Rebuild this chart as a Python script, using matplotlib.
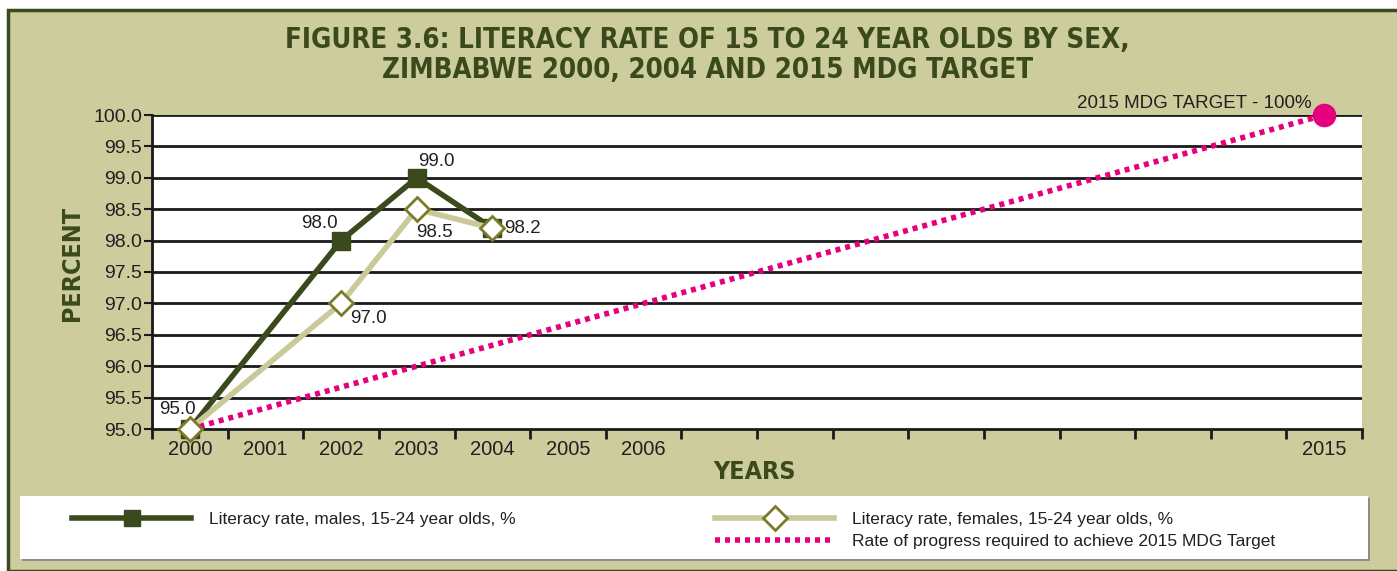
import matplotlib.pyplot as plt
from matplotlib.lines import Line2D
from matplotlib.patches import Rectangle

# data
years = list(range(2000, 2016))
tick_labels = ['2000', '2001', '2002', '2003', '2004', '2005', '2006',
               '', '', '', '', '', '', '', '', '2015']
male_years = [2000, 2002, 2003, 2004]
male_rate = [95.0, 98.0, 99.0, 98.2]
female_years = [2000, 2002, 2003, 2004]
female_rate = [95.0, 97.0, 98.5, 98.2]
target_years = [2000, 2015]
target_rate = [95.0, 100.0]

# colours
bg = '#cccc9c'
dark = '#3a4a1c'
light = '#c9c99a'
olive = '#7b7b2b'
pink = '#e6007e'
txt = '#231f20'

W, H = 1397, 571
fig = plt.figure(figsize=(W / 100, H / 100), dpi=100)
fig.patch.set_facecolor('white')

# background panel with dark border
fig.patches.append(Rectangle((8 / W, 0), 1.0, 1 - 10 / H, transform=fig.transFigure,
                             facecolor=bg, edgecolor=dark, linewidth=2.5, zorder=-3))
# legend box
fig.patches.append(Rectangle((22 / W, 1 - 561 / H), 1348 / W, 63 / H, transform=fig.transFigure,
                             facecolor='#8c8c8c', edgecolor='none', zorder=-2))
fig.patches.append(Rectangle((20 / W, 1 - 559 / H), 1348 / W, 63 / H, transform=fig.transFigure,
                             facecolor='white', edgecolor='none', zorder=-1))

ax = fig.add_axes([152 / W, 1 - 429 / H, 1210 / W, 314 / H])
ax.set_facecolor('white')

ax.set_xlim(1999.5, 2015.5)
ax.set_ylim(95.0, 100.0)

# grid lines
for y in [95.5, 96.0, 96.5, 97.0, 97.5, 98.0, 98.5, 99.0, 99.5, 100.0]:
    ax.axhline(y, color='#1a1a1a', linewidth=2.0, zorder=1)

ax.plot(target_years, target_rate, color=pink, linewidth=4, linestyle=(0, (0.9, 0.9)),
        zorder=2, clip_on=False)
ax.plot(target_years[-1], target_rate[-1], 'o', color=pink, markersize=16, zorder=5, clip_on=False)

ax.plot(male_years, male_rate, color=dark, linewidth=4, marker='s', markersize=12.5,
        zorder=3, clip_on=False)
ax.plot(female_years, female_rate, color=light, linewidth=4, marker='D', markersize=12,
        markerfacecolor='white', markeredgecolor=olive, markeredgewidth=2, zorder=4, clip_on=False)

# data labels (offsets in pixels)
lab = dict(fontsize=13.5, color=txt, family='Liberation Sans', textcoords='offset pixels',
           ha='center', va='center')
ax.annotate('95.0', (2000, 95.0), xytext=(-12, 20), **lab)
ax.annotate('98.0', (2002, 98.0), xytext=(-22, 17), **lab)
ax.annotate('99.0', (2003, 99.0), xytext=(20, 16), **lab)
ax.annotate('98.5', (2003, 98.5), xytext=(18, -23), **lab)
ax.annotate('97.0', (2002, 97.0), xytext=(27, -15), **lab)
ax.annotate('98.2', (2004, 98.2), xytext=(30, 0), **lab)
ax.annotate('2015 MDG TARGET - 100%', (2015, 100.0), xytext=(-13, 12), fontsize=13.5, color=txt,
            family='Liberation Sans', textcoords='offset pixels', ha='right', va='center')

# axes styling
for s in ['top', 'right']:
    ax.spines[s].set_visible(False)
for s in ['left', 'bottom']:
    ax.spines[s].set_color('#1a1a1a')
    ax.spines[s].set_linewidth(2.0)

ax.set_yticks([95.0, 95.5, 96.0, 96.5, 97.0, 97.5, 98.0, 98.5, 99.0, 99.5, 100.0])
ax.set_yticklabels(['%.1f' % v for v in ax.get_yticks()])
ax.tick_params(axis='y', direction='out', length=6, width=1.5, color='#1a1a1a',
               labelsize=14, labelcolor=txt, pad=1)

ax.set_xticks(years)
ax.set_xticklabels(tick_labels)
ax.set_xticks([y + 0.5 for y in [1999] + years], minor=True)
ax.tick_params(axis='x', which='major', length=0, labelsize=14.5, labelcolor=txt, pad=8)
ax.tick_params(axis='x', which='minor', direction='out', length=7, width=2, color='#1a1a1a')
for t in ax.get_xticklabels() + ax.get_yticklabels():
    t.set_family('Liberation Sans')

title_kw = dict(ha='center', va='center', fontsize=19.8, fontweight='bold', color=dark,
                family='DejaVu Sans', fontstretch='condensed')
fig.text(0.5066, 1 - 40 / H, 'FIGURE 3.6: LITERACY RATE OF 15 TO 24 YEAR OLDS BY SEX,', **title_kw)
fig.text(0.5066, 1 - 70 / H, 'ZIMBABWE 2000, 2004 AND 2015 MDG TARGET', **title_kw)
fig.text(755 / W, 1 - 472 / H, 'YEARS', ha='center', va='center', fontsize=18,
         fontweight='bold', color=dark, family='DejaVu Sans', fontstretch='condensed')
fig.text(72 / W, 1 - 263 / H, 'PERCENT', ha='center', va='center', rotation=90, fontsize=18,
         fontweight='bold', color=dark, family='DejaVu Sans', fontstretch='condensed')

# legend
h_male = Line2D([], [], color=dark, linewidth=4, marker='s', markersize=12)
h_female = Line2D([], [], color=light, linewidth=4, marker='D', markersize=12,
                  markerfacecolor='white', markeredgecolor=olive, markeredgewidth=2)
h_target = Line2D([], [], color=pink, linewidth=4, linestyle=(0, (0.9, 0.9)))
leg_prop = {'family': 'Liberation Sans', 'size': 12.5}
leg1 = fig.legend([h_male], ['Literacy rate, males, 15-24 year olds, %'],
                  loc='upper left', bbox_to_anchor=(56 / W, 1 - 496 / H), frameon=False,
                  handlelength=6.9, handletextpad=1.0, prop=leg_prop)
leg2 = fig.legend([h_female, h_target],
                  ['Literacy rate, females, 15-24 year olds, %', 'Rate of progress required to achieve 2015 MDG Target'],
                  loc='upper left', bbox_to_anchor=(699 / W, 1 - 496 / H), frameon=False,
                  handlelength=6.9, handletextpad=1.0, labelspacing=0.4, prop=leg_prop)
for lg in (leg1, leg2):
    for t in lg.get_texts():
        t.set_color(txt)

plt.savefig('out.png', dpi=100, facecolor=fig.get_facecolor())
